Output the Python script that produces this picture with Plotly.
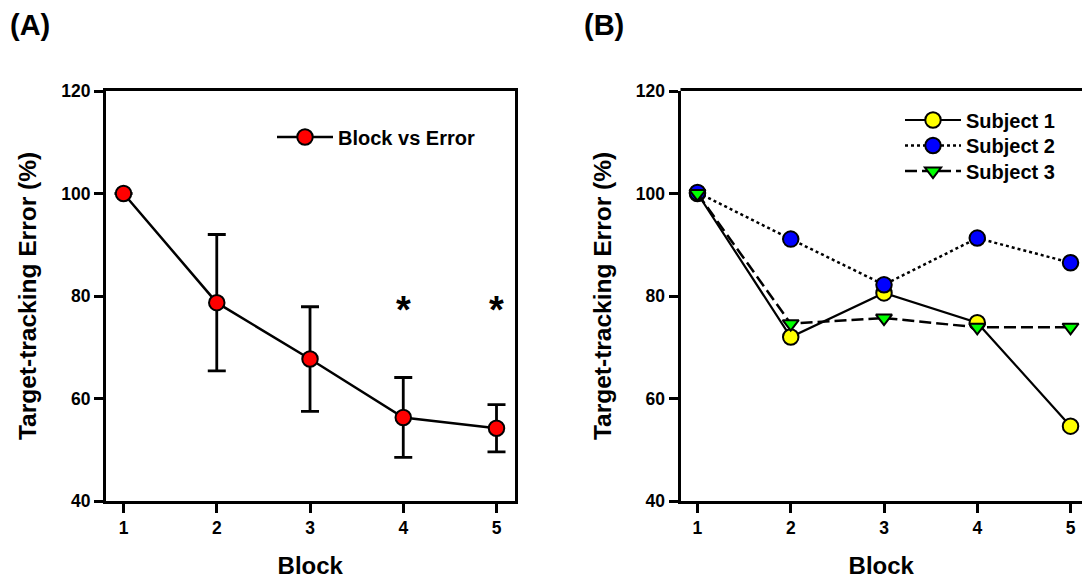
import plotly.graph_objects as go

blocks = [1, 2, 3, 4, 5]
tick_labels = ["1", "2", "3", "4", "5"]
y_ticks = [40, 60, 80, 100, 120]

# Panel A: mean error with SD
mean_error = [100.0, 78.7, 67.7, 56.3, 54.2]
sd_error = [None, 13.3, 10.2, 7.8, 4.6]
sig_blocks = [4, 5]
sig_y = [78.5, 78.5]

# Panel B: individual subjects
subject1 = [100.0, 72.0, 80.6, 74.8, 54.6]
subject2 = [100.2, 91.1, 82.2, 91.3, 86.5]
subject3 = [100.0, 74.6, 75.7, 73.9, 73.9]

FONT = "Liberation Sans, Arial, Helvetica, sans-serif"
W, H = 1082, 579

def px_x(p):
    return p / W

def px_y(p):
    return 1 - p / H

fig = go.Figure()

fig.add_trace(go.Scatter(
    x=blocks, y=mean_error, mode="lines+markers", name="Block vs Error",
    line=dict(color="black", width=2.5),
    marker=dict(symbol="circle", size=15.5, color="#FF0000", line=dict(color="black", width=2)),
    error_y=dict(type="data", array=sd_error, visible=True, color="black", thickness=2.8, width=9),
    xaxis="x", yaxis="y", legend="legend",
))

fig.add_trace(go.Scatter(
    x=blocks, y=subject1, mode="lines+markers", name="Subject 1",
    line=dict(color="black", width=2.2),
    marker=dict(symbol="circle", size=15.5, color="#FFFF00", line=dict(color="black", width=2)),
    xaxis="x2", yaxis="y2", legend="legend2",
))
fig.add_trace(go.Scatter(
    x=blocks, y=subject2, mode="lines+markers", name="Subject 2",
    line=dict(color="black", width=2.5, dash="dot"),
    marker=dict(symbol="circle", size=15.5, color="#0000FF", line=dict(color="black", width=2)),
    xaxis="x2", yaxis="y2", legend="legend3",
))
fig.add_trace(go.Scatter(
    x=blocks, y=subject3, mode="lines+markers", name="Subject 3",
    line=dict(color="black", width=2.5, dash="12px,5px"),
    marker=dict(symbol="triangle-down", size=14, color="#00FF00", line=dict(color="black", width=2)),
    xaxis="x2", yaxis="y2", legend="legend4",
))

axis_common = dict(
    showline=True, linecolor="black", linewidth=3,
    ticks="outside", ticklen=9, tickwidth=2.5, tickcolor="black",
    showgrid=False, zeroline=False, automargin=False,
    tickfont=dict(family=FONT, size=17.5, color="black", weight="bold"),
)

xdomA = [px_x(106), px_x(514.5)]
xdomB = [px_x(680.5), 1.0]
ydom = [px_y(501), px_y(91)]

xtitle = dict(text="Block", font=dict(family=FONT, size=24, weight="bold"), standoff=22)
ytitle = dict(text="Target-tracking Error (%)", font=dict(family=FONT, size=24.5, weight="bold"), standoff=18)

leg_common = dict(xanchor="left", yanchor="middle", bgcolor="rgba(0,0,0,0)", itemwidth=56,
                  font=dict(family=FONT, size=20, color="black", weight="bold"))

fig.update_layout(
    width=W, height=H,
    autosize=False,
    margin=dict(l=0, r=0, t=0, b=0, pad=0, autoexpand=False),
    paper_bgcolor="white", plot_bgcolor="white",
    font=dict(family=FONT, color="black"),
    xaxis=dict(**axis_common, domain=xdomA, range=[0.812, 5.193], mirror=True,
               tickvals=blocks, ticktext=tick_labels, anchor="y", title=xtitle),
    yaxis=dict(**axis_common, domain=ydom, range=[40, 120], mirror=True,
               tickvals=y_ticks, anchor="x", title=ytitle),
    xaxis2=dict(**axis_common, domain=xdomB, range=[0.818, 5.123], mirror=False,
                tickvals=blocks, ticktext=tick_labels, anchor="y2", title=xtitle),
    yaxis2=dict(**axis_common, domain=ydom, range=[40, 120], mirror=False,
                tickvals=y_ticks, anchor="x2", title=ytitle),
    legend=dict(**leg_common, x=px_x(272), y=px_y(137)),
    legend2=dict(**leg_common, x=px_x(900), y=px_y(120)),
    legend3=dict(**leg_common, x=px_x(900), y=px_y(145.5)),
    legend4=dict(**leg_common, x=px_x(900), y=px_y(171)),
    showlegend=True,
)

# top border of panel B (its right edge is cut off in the original)
fig.add_shape(type="line", xref="x2 domain", yref="paper", x0=0, x1=1,
              y0=px_y(89.5), y1=px_y(89.5), line=dict(color="black", width=3))

# significance asterisks
for xb, yb in zip(sig_blocks, sig_y):
    fig.add_annotation(x=xb, y=yb, xref="x", yref="y", text="*", showarrow=False,
                       font=dict(family=FONT, size=38, color="black", weight="bold"),
                       yanchor="middle", yshift=-6)

# panel labels
fig.add_annotation(x=px_x(8), y=px_y(25), xref="paper", yref="paper", text="(A)",
                   showarrow=False, xanchor="left", yanchor="middle",
                   font=dict(family=FONT, size=29, color="black", weight="bold"))
fig.add_annotation(x=px_x(582), y=px_y(25), xref="paper", yref="paper", text="(B)",
                   showarrow=False, xanchor="left", yanchor="middle",
                   font=dict(family=FONT, size=29, color="black", weight="bold"))

fig.write_html("out.html", config={"displayModeBar": False},
               post_script="document.body.style.margin='0';document.body.style.overflow='hidden';")
